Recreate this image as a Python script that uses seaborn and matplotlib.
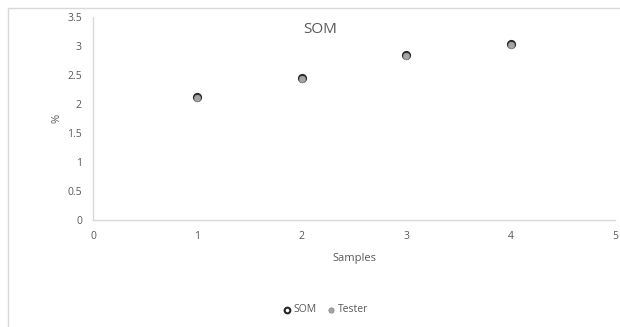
import matplotlib
matplotlib.use("Agg")
import matplotlib.pyplot as plt
from matplotlib.patches import Rectangle
import seaborn as sns
import pandas as pd

samples = [1, 2, 3, 4]
som_values = [2.12, 2.45, 2.84, 3.04]
tester_values = [2.10, 2.43, 2.82, 3.01]
x_ticks = [0, 1, 2, 3, 4, 5]
y_ticks = [0, 0.5, 1, 1.5, 2, 2.5, 3, 3.5]
y_tick_labels = ["0", "0.5", "1", "1.5", "2", "2.5", "3", "3.5"]

sns.set_theme(style="white")
plt.rcParams["font.family"] = ["Open Sans", "DejaVu Sans"]

text_color = "#595959"
axis_color = "#d9d9d9"

df = pd.DataFrame({
    "Samples": samples * 2,
    "value": som_values + tester_values,
    "series": ["SOM"] * len(samples) + ["Tester"] * len(samples),
})

fig = plt.figure(figsize=(6.2, 3.27), dpi=100)
ax = fig.add_axes([93 / 620, 1 - 220 / 327, (615 - 93) / 620, (220 - 17) / 327])

som = df[df["series"] == "SOM"]
tester = df[df["series"] == "Tester"]
sns.scatterplot(data=som, x="Samples", y="value", ax=ax, s=26,
                facecolor="white", edgecolor="#262626", linewidth=1.5,
                label="SOM", zorder=3)
sns.scatterplot(data=tester, x="Samples", y="value", ax=ax, s=22,
                color="#a5a5a5", edgecolor="#8c8c8c", linewidth=0.6,
                label="Tester", zorder=4)

ax.set_xlim(0, 5)
ax.set_ylim(0, 3.5)
ax.set_xticks(x_ticks)
ax.set_yticks(y_ticks)
ax.set_yticklabels(y_tick_labels)
ax.tick_params(axis="both", length=0, labelsize=7.5, colors=text_color, pad=8)
for side in ["top", "right"]:
    ax.spines[side].set_visible(False)
for side in ["left", "bottom"]:
    ax.spines[side].set_color(axis_color)
    ax.spines[side].set_linewidth(1.0)

ax.set_xlabel("Samples", fontsize=8, color=text_color, labelpad=8)
ax.set_ylabel("%", fontsize=8, color=text_color, labelpad=0)
ax.yaxis.set_label_coords(-(93 - 62) / (615 - 93), 0.5)
ax.text(0.435, 0.94, "SOM", transform=ax.transAxes, ha="center", va="center",
        fontsize=11, color=text_color)

leg = ax.legend(loc="center", bbox_to_anchor=(325 / 620, 1 - 310 / 327),
                bbox_transform=fig.transFigure, ncol=2, frameon=False,
                fontsize=7.5, handletextpad=0.15, columnspacing=0.9,
                handlelength=1.0, markerscale=0.8)
for t in leg.get_texts():
    t.set_color(text_color)

fig.patches.append(Rectangle((8 / 620, -0.05), 1, 1.05 - 8 / 327, transform=fig.transFigure,
                             fill=False, edgecolor=axis_color, linewidth=1.0))

fig.savefig("out.png", dpi=100)
